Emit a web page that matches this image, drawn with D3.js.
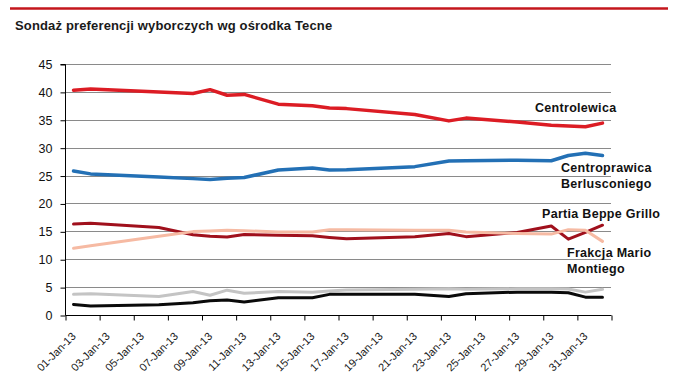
<!DOCTYPE html>
<html>
<head>
<meta charset="utf-8">
<script src="https://cdn.jsdelivr.net/npm/d3@7"></script>
<style>
  html, body { margin: 0; padding: 0; background: #fff; }
  svg { display: block; font-family: "Liberation Sans", Arial, sans-serif; }
</style>
</head>
<body>
<svg id="chart" width="680" height="381"></svg>
<script>
// ---- data ----
const titleText = "Sondaż preferencji wyborczych wg ośrodka Tecne";
const pollDates = ["2013-01-01","2013-01-02","2013-01-06","2013-01-08","2013-01-09","2013-01-10","2013-01-11",
  "2013-01-13","2013-01-15","2013-01-16","2013-01-17","2013-01-21","2013-01-23","2013-01-24",
  "2013-01-27","2013-01-29","2013-01-30","2013-01-31","2013-02-01"];
const centrolewica   = [40.3, 40.5, 40.0, 39.7, 40.4, 39.4, 39.55, 37.8, 37.5, 37.1, 37.0, 35.95, 34.8, 35.3, 34.6, 34.0, 33.9, 33.75, 34.4];
const centroprawica  = [25.8, 25.3, 24.75, 24.45, 24.3, 24.5, 24.65, 26.0, 26.35, 26.0, 26.05, 26.6, 27.6, 27.65, 27.75, 27.65, 28.6, 29.0, 28.6];
const beppeGrillo    = [16.3, 16.45, 15.7, 14.4, 14.1, 14.0, 14.45, 14.3, 14.2, 13.9, 13.65, 14.05, 14.6, 14.05, 14.8, 15.95, 13.6, 14.8, 16.1];
const marioMonti     = [11.95, 12.4, 14.1, 14.95, 15.05, 15.2, 15.1, 14.9, 14.9, 15.3, 15.3, 15.2, 15.2, 14.9, 14.6, 14.5, 15.3, 15.2, 13.2];
const seriesGrey     = [3.7, 3.8, 3.3, 4.2, 3.55, 4.45, 3.9, 4.2, 4.1, 4.3, 4.5, 4.6, 4.7, 4.6, 4.7, 4.7, 4.65, 4.1, 4.6];
const seriesBlack    = [1.9, 1.6, 1.85, 2.2, 2.55, 2.7, 2.35, 3.1, 3.1, 3.7, 3.7, 3.7, 3.3, 3.8, 4.1, 4.1, 4.0, 3.2, 3.2];
const yTicks = [0, 5, 10, 15, 20, 25, 30, 35, 40, 45];
const xLabelDates = ["2013-01-01","2013-01-03","2013-01-05","2013-01-07","2013-01-09","2013-01-11","2013-01-13","2013-01-15",
  "2013-01-17","2013-01-19","2013-01-21","2013-01-23","2013-01-25","2013-01-27","2013-01-29","2013-01-31"];

const parse = d3.utcParse("%Y-%m-%d");
const fmt = d3.utcFormat("%d-%b-%y");
const dates = pollDates.map(parse);

const series = [
  { name: "Centrolewica",  values: centrolewica,  color: "#DC1C24", width: 3.5 },
  { name: "Centroprawica Berlusconiego", values: centroprawica, color: "#2370B5", width: 3.5 },
  { name: "Partia Beppe Grillo", values: beppeGrillo, color: "#A0101C", width: 3 },
  { name: "Frakcja Mario Montiego", values: marioMonti, color: "#F6BAA3", width: 3 },
  { name: "grey", values: seriesGrey, color: "#C4C4C4", width: 3 },
  { name: "black", values: seriesBlack, color: "#0A0A0A", width: 3 }
];

const labels = [
  { lines: ["Centrolewica"], x: 535, y: 112 },
  { lines: ["Centroprawica", "Berlusconiego"], x: 561, y: 172 },
  { lines: ["Partia Beppe Grillo"], x: 542, y: 218 },
  { lines: ["Frakcja Mario", "Montiego"], x: 567, y: 257 }
];

// ---- drawing ----
const svg = d3.select("#chart");
const plotLeft = 65, plotRight = 611, plotTop = 64, plotBottom = 315;

// day categories: axis runs from Dec 31 noon to Feb 1 noon, points at midnight (category centres)
const x = d3.scaleUtc()
  .domain([new Date(Date.UTC(2012, 11, 31, 12)), new Date(Date.UTC(2013, 1, 1, 12))])
  .range([plotLeft, plotRight]);
const y = d3.scaleLinear().domain([0, 45]).range([plotBottom, plotTop]);

// top rule
svg.append("line").attr("x1", 10).attr("x2", 668).attr("y1", 8.5).attr("y2", 8.5)
  .attr("stroke", "#C4161C").attr("stroke-width", 2.5);

// title
svg.append("text").attr("x", 15).attr("y", 29.5)
  .attr("font-size", 13).attr("font-weight", "bold").attr("fill", "#1a1a1a")
  .attr("letter-spacing", 0.15)
  .text(titleText);

// gridlines
svg.append("g").selectAll("line").data(yTicks.filter(v => v > 0)).join("line")
  .attr("x1", plotLeft).attr("x2", plotRight)
  .attr("y1", d => Math.round(y(d)) + 0.5).attr("y2", d => Math.round(y(d)) + 0.5)
  .attr("stroke", "#8a8a8a").attr("stroke-width", 1);

// y axis
const yAxis = d3.axisLeft(y).tickValues(yTicks).tickSize(5).tickPadding(8).tickFormat(d3.format("d"));
const gy = svg.append("g").attr("transform", `translate(${plotLeft + 0.5},0.5)`).call(yAxis);
gy.select(".domain").attr("stroke", "#000").attr("d", `M-5,${y(45)}H0V${y(0)}`);
gy.selectAll(".tick line").attr("stroke", "#000");
gy.selectAll(".tick text").attr("font-size", 12.5).attr("fill", "#111").attr("font-family", "Liberation Sans, Arial, sans-serif");

// x axis: ticks every two days at category boundaries
const tickDates = d3.range(0, 17).map(i => new Date(Date.UTC(2012, 11, 31 + 2 * i, 12)));
const xAxis = d3.axisBottom(x).tickValues(tickDates).tickSize(5).tickFormat("");
const gx = svg.append("g").attr("transform", `translate(0.5,${plotBottom + 0.5})`).call(xAxis);
gx.select(".domain").attr("stroke", "#000").attr("d", `M${plotLeft},0H${plotRight}`);
gx.selectAll(".tick line").attr("stroke", "#000");

// x labels rotated
svg.append("g").selectAll("text").data(xLabelDates.map(parse)).join("text")
  .attr("transform", d => `translate(${x(d) + 3},${plotBottom + 22}) rotate(-45)`)
  .attr("text-anchor", "end")
  .attr("font-size", 11).attr("fill", "#1a1a1a")
  .text(d => fmt(d));

// lines
const line = d3.line().x((d, i) => x(dates[i])).y(d => y(d));
svg.append("g").selectAll("path").data(series).join("path")
  .attr("d", s => line(s.values))
  .attr("fill", "none")
  .attr("stroke", s => s.color)
  .attr("stroke-width", s => s.width)
  .attr("stroke-linejoin", "round")
  .attr("stroke-linecap", "round");

// series labels
const lg = svg.append("g").attr("font-size", 12.5).attr("font-weight", "bold").attr("fill", "#111");
labels.forEach(l => {
  const t = lg.append("text").attr("x", l.x).attr("y", l.y).attr("letter-spacing", 0.3);
  l.lines.forEach((s, i) => t.append("tspan").attr("x", l.x).attr("dy", i === 0 ? 0 : 16).text(s));
});
</script>
</body>
</html>
